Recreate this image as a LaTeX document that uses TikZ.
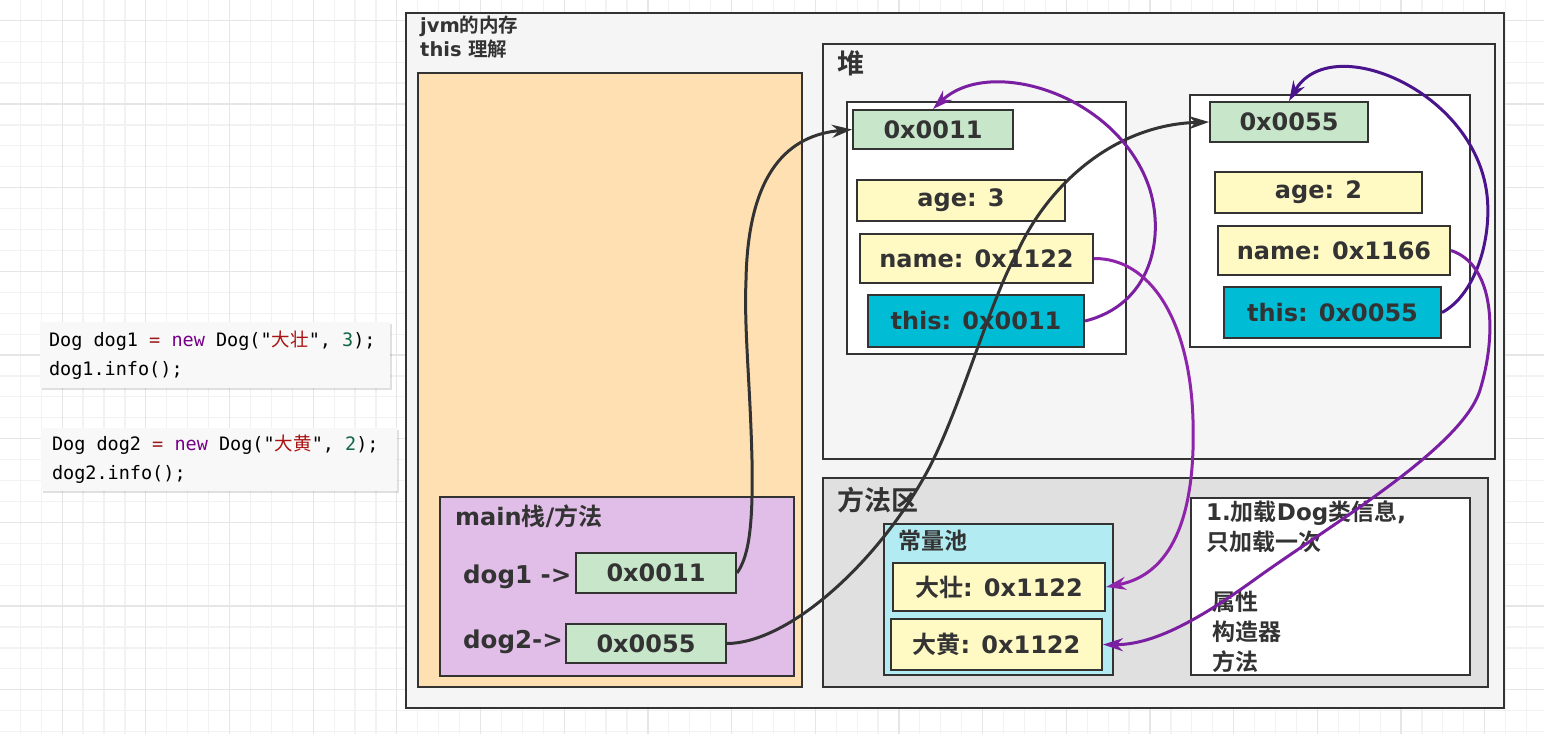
\documentclass[tikz,border=0pt]{standalone}
\usepackage{fontspec}
\setmainfont{DejaVu Sans}
\setmonofont{DejaVu Sans Mono}
\newfontfamily\cjkfont{Noto Sans CJK SC}[BoldFont={Noto Sans CJK SC Bold}]
\newcommand{\zh}[1]{{\cjkfont #1}}
\newcommand{\ts}{\hphantom{0}}
\usetikzlibrary{arrows.meta,shadows}
\definecolor{LineGray}{HTML}{333333}
\definecolor{TextGray}{HTML}{333333}
\definecolor{PanelGray}{HTML}{F5F5F5}
\definecolor{MethodGray}{HTML}{E0E0E0}
\definecolor{StackOrange}{HTML}{FFE0B2}
\definecolor{MainPurple}{HTML}{E1BEE7}
\definecolor{AddrGreen}{HTML}{C8E6C9}
\definecolor{FieldYellow}{HTML}{FFF9C4}
\definecolor{ThisCyan}{HTML}{00BCD4}
\definecolor{PoolCyan}{HTML}{B2EBF2}
\definecolor{CodeBack}{HTML}{F8F8F8}
\definecolor{KwColor}{HTML}{770088}
\definecolor{OpColor}{HTML}{981A1A}
\definecolor{StrColor}{HTML}{AA1111}
\definecolor{NumColor}{HTML}{116644}
\definecolor{RefPurple}{HTML}{8E24AA}
\definecolor{RefViolet}{HTML}{7B1FA2}
\definecolor{RefIndigo}{HTML}{4A148C}
\definecolor{GridMinor}{HTML}{F2F2F2}
\definecolor{GridMajor}{HTML}{E6E6E6}

\begin{document}
\begin{tikzpicture}[x=1pt, y=-1pt,
    box/.style={draw=LineGray, line width=2pt, inner sep=0pt, text=TextGray,
        font=\bfseries\fontsize{24}{28}\selectfont},
    addr/.style={box, fill=AddrGreen},
    field/.style={box, fill=FieldYellow},
    thisbox/.style={box, fill=ThisCyan},
    area/.style={draw=LineGray, line width=2pt, inner sep=0pt},
    tag/.style={inner sep=0pt, text=TextGray, anchor=west,
        font=\bfseries\fontsize{#1}{#1}\selectfont},
    codebox/.style={fill=CodeBack, inner sep=0pt, align=left,
        drop shadow={shadow xshift=1.5pt, shadow yshift=-1.5pt, fill=black, opacity=0.12},
        font=\ttfamily\fontsize{18.5}{29}\selectfont},
    ptr/.style={line width=3pt, -{Stealth[length=20pt, width=13pt]}},
    gridline/.style={line width=1.2pt, GridMinor},
    gridmajor/.style={line width=1.2pt, GridMajor},
]
    \useasboundingbox (0,0) rectangle (1544,734);
    \fill[white] (0,0) rectangle (1544,734);
    %% background grid
    \foreach \gx in {20.3,41.22,...,1544} \draw[gridline] (\gx,0) -- (\gx,734);
    \foreach \gy in {20.3,41.22,...,734} \draw[gridline] (0,\gy) -- (1544,\gy);
    \foreach \gx in {62.14,145.82,...,1544} \draw[gridmajor] (\gx,0) -- (\gx,734);
    \foreach \gy in {20.3,103.98,...,734} \draw[gridmajor] (0,\gy) -- (1544,\gy);

    %% code snippets
    \node[codebox, minimum width=350pt, minimum height=66pt, text width=332pt] (code1) at (215,355)
        {Dog\ts dog1\ts{\color{OpColor}=}\ts{\color{KwColor}new}\ts Dog("{\color{StrColor}\zh{大壮}}",\ts{\color{NumColor}3});\\dog1.info();};
    \node[codebox, minimum width=356pt, minimum height=63pt, text width=334pt] (code2) at (219,459.5)
        {Dog\ts dog2\ts{\color{OpColor}=}\ts{\color{KwColor}new}\ts Dog("{\color{StrColor}\zh{大黄}}",\ts{\color{NumColor}2});\\dog2.info();};

    %% jvm memory
    \node[area, fill=PanelGray, minimum width=1098pt, minimum height=695pt] (jvm) at (955,360.5) {};
    \node[tag=19.5, anchor=north west, align=left, font=\bfseries\fontsize{19.5}{23.5}\selectfont] (title) at (420,16)
        {jvm\zh{的内存}\\this \zh{理解}};

    %% stack
    \node[area, fill=StackOrange, minimum width=384pt, minimum height=614pt] (stack) at (610,380) {};
    \node[area, fill=MainPurple, minimum width=354pt, minimum height=179pt] (mainstack) at (617,586.5) {};
    \node[tag=24] (mainname) at (455,516) {main\zh{栈}/\zh{方法}};
    \node[tag=24.5] (dog1) at (463,577) {dog1 ->};
    \node[tag=24.5] (dog2) at (463,642) {dog2->};
    \node[addr, minimum width=160pt, minimum height=40pt] (s1) at (656,573) {0x0011};
    \node[addr, minimum width=160pt, minimum height=39pt] (s2) at (646,643.5) {0x0055};

    %% heap
    \node[area, fill=PanelGray, minimum width=672pt, minimum height=415pt] (heap) at (1159,251.5) {};
    \node[tag=27] (heapname) at (837,63) {\zh{堆}};
    \node[area, fill=white, minimum width=279pt, minimum height=252pt] (obj1) at (986.5,228) {};
    \node[addr, minimum width=160pt, minimum height=39pt] (h1addr) at (933,129.5) {0x0011};
    \node[field, minimum width=208pt, minimum height=41pt] (h1age) at (961,200.5) {age: 3};
    \node[field, minimum width=233pt, minimum height=49pt] (h1name) at (976.5,258.5) {name: 0x1122};
    \node[thisbox, minimum width=216pt, minimum height=52pt] (h1this) at (976,321) {this: 0x0011};
    \node[area, fill=white, minimum width=280pt, minimum height=252pt] (obj2) at (1330,221) {};
    \node[addr, minimum width=158pt, minimum height=40pt] (h2addr) at (1289,122) {0x0055};
    \node[field, minimum width=207pt, minimum height=41pt] (h2age) at (1318.5,192.5) {age: 2};
    \node[field, minimum width=232pt, minimum height=49pt] (h2name) at (1334,250.5) {name: 0x1166};
    \node[thisbox, minimum width=217pt, minimum height=51pt] (h2this) at (1332.5,312.5) {this: 0x0055};

    %% method area
    \node[area, fill=MethodGray, minimum width=665pt, minimum height=209pt] (method) at (1155.5,582.5) {};
    \node[tag=27] (methodname) at (837,500) {\zh{方法区}};
    \node[area, fill=PoolCyan, minimum width=229pt, minimum height=151pt] (pool) at (998.5,599.5) {};
    \node[tag=23] (poolname) at (898,541) {\zh{常量池}};
    \node[field, minimum width=212pt, minimum height=48pt] (p1) at (999,587) {\zh{大壮}: 0x1122};
    \node[field, minimum width=211pt, minimum height=51pt] (p2) at (996.5,644.5) {\zh{大黄}: 0x1122};
    \node[area, fill=white, minimum width=279pt, minimum height=177pt] (info) at (1330.5,586.5) {};
    \node[tag=23, anchor=north west, align=left, font=\bfseries\fontsize{23}{30}\selectfont] (infotext) at (1206,501)
        {1.\zh{加载}Dog\zh{类信息},\\\zh{只加载一次}\\\mbox{}\\\hspace{6pt}\zh{属性}\\\hspace{6pt}\zh{构造器}\\\hspace{6pt}\zh{方法}};

    %% references
    \draw[ptr, LineGray] (s1.east) .. controls (750,555) and (753,520) .. (752,460)
        .. controls (750,380) and (744,330) .. (746,280)
        .. controls (748,170) and (790,135) .. (h1addr.west);
    \draw[ptr, LineGray] (s2.east) .. controls (790,643) and (880,560) .. (928,470)
        .. controls (960,410) and (990,300) .. (1017,253)
        .. controls (1045,190) and (1110,125) .. (h2addr.west);
    \draw[ptr, RefViolet] (h1this.east) .. controls (1150,305) and (1165,240) .. (1150,190)
        .. controls (1120,95) and (990,55) .. (h1addr.north);
    \draw[ptr, RefPurple] (h1name.east) .. controls (1150,258) and (1190,320) .. (1193,420)
        .. controls (1196,520) and (1170,575) .. (p1.east);
    \draw[ptr, RefIndigo] (h2this.east) .. controls (1475,295) and (1492,240) .. (1487,195)
        .. controls (1475,90) and (1330,30) .. (h2addr.north);
    \draw[ptr, RefViolet] (h2name.east) .. controls (1495,265) and (1497,335) .. (1480,390)
        .. controls (1462,448) and (1330,525) .. (1254,580)
        .. controls (1193,624) and (1150,645) .. (p2.east);
\end{tikzpicture}
\end{document}
